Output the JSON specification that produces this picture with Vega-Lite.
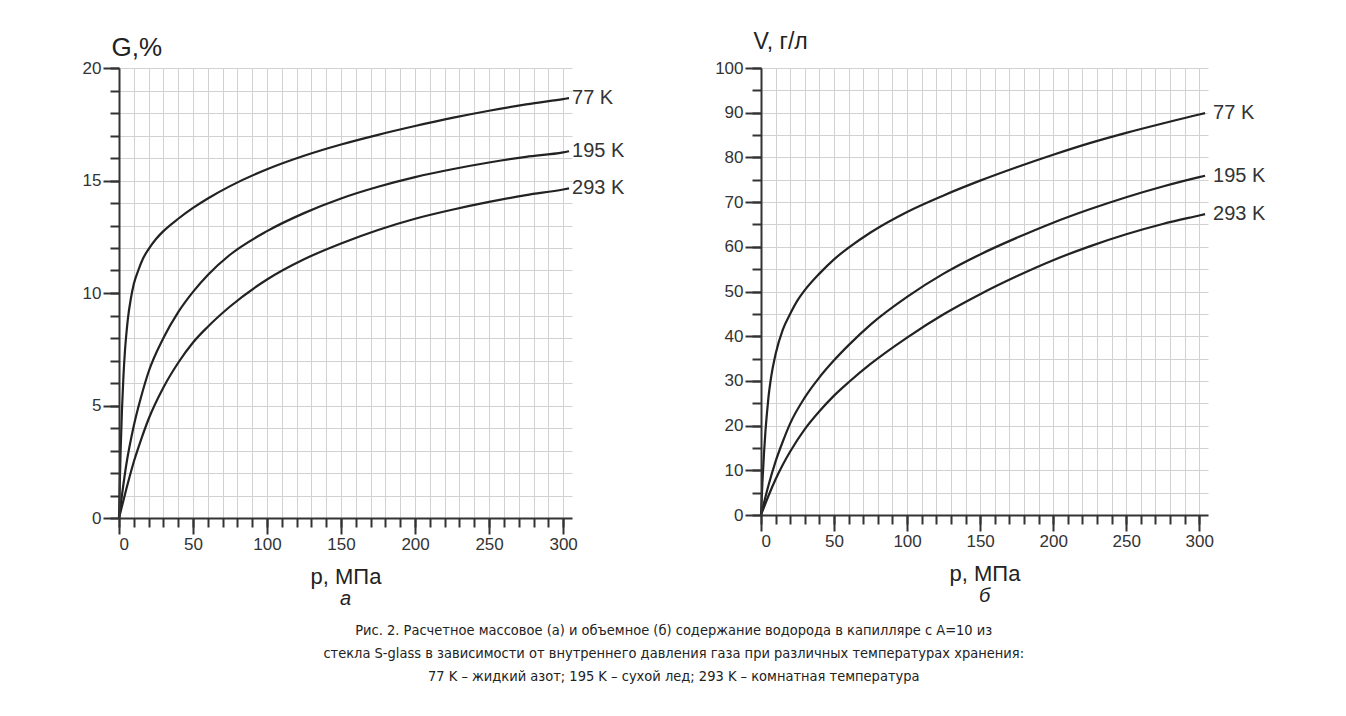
{
  "$schema": "https://vega.github.io/schema/vega-lite/v6.json",
  "background": "white",
  "padding": {"left": 82, "top": 30, "right": 10, "bottom": 10},
  "config": {"font": "Liberation Sans", "view": {"stroke": null}, "concat": {"spacing": 89}},
  "datasets": {
    "mass": [
      {"T": "77 K", "p": 0, "v": 0}, {"T": "77 K", "p": 1, "v": 2.8}, {"T": "77 K", "p": 2, "v": 4.8}, {"T": "77 K", "p": 3, "v": 6.3}, {"T": "77 K", "p": 4, "v": 7.4}, {"T": "77 K", "p": 5, "v": 8.2}, {"T": "77 K", "p": 6, "v": 8.85}, {"T": "77 K", "p": 8, "v": 9.75}, {"T": "77 K", "p": 10, "v": 10.4}, {"T": "77 K", "p": 13, "v": 11.0}, {"T": "77 K", "p": 16, "v": 11.5}, {"T": "77 K", "p": 20, "v": 11.95}, {"T": "77 K", "p": 25, "v": 12.4}, {"T": "77 K", "p": 30, "v": 12.75}, {"T": "77 K", "p": 40, "v": 13.3}, {"T": "77 K", "p": 50, "v": 13.78}, {"T": "77 K", "p": 60, "v": 14.2}, {"T": "77 K", "p": 75, "v": 14.75}, {"T": "77 K", "p": 100, "v": 15.5}, {"T": "77 K", "p": 125, "v": 16.1}, {"T": "77 K", "p": 150, "v": 16.6}, {"T": "77 K", "p": 175, "v": 17.03}, {"T": "77 K", "p": 200, "v": 17.42}, {"T": "77 K", "p": 225, "v": 17.78}, {"T": "77 K", "p": 250, "v": 18.1}, {"T": "77 K", "p": 275, "v": 18.38}, {"T": "77 K", "p": 300, "v": 18.62}, {"T": "77 K", "p": 304, "v": 18.66},
      {"T": "195 K", "p": 0, "v": 0}, {"T": "195 K", "p": 5, "v": 2.4}, {"T": "195 K", "p": 10, "v": 4.1}, {"T": "195 K", "p": 15, "v": 5.4}, {"T": "195 K", "p": 20, "v": 6.5}, {"T": "195 K", "p": 30, "v": 8.0}, {"T": "195 K", "p": 40, "v": 9.15}, {"T": "195 K", "p": 50, "v": 10.05}, {"T": "195 K", "p": 60, "v": 10.8}, {"T": "195 K", "p": 75, "v": 11.7}, {"T": "195 K", "p": 100, "v": 12.75}, {"T": "195 K", "p": 125, "v": 13.55}, {"T": "195 K", "p": 150, "v": 14.2}, {"T": "195 K", "p": 175, "v": 14.72}, {"T": "195 K", "p": 200, "v": 15.15}, {"T": "195 K", "p": 225, "v": 15.5}, {"T": "195 K", "p": 250, "v": 15.8}, {"T": "195 K", "p": 275, "v": 16.05}, {"T": "195 K", "p": 300, "v": 16.25}, {"T": "195 K", "p": 304, "v": 16.3},
      {"T": "293 K", "p": 0, "v": 0}, {"T": "293 K", "p": 5, "v": 1.3}, {"T": "293 K", "p": 10, "v": 2.5}, {"T": "293 K", "p": 15, "v": 3.5}, {"T": "293 K", "p": 20, "v": 4.4}, {"T": "293 K", "p": 30, "v": 5.8}, {"T": "293 K", "p": 40, "v": 6.9}, {"T": "293 K", "p": 50, "v": 7.8}, {"T": "293 K", "p": 60, "v": 8.5}, {"T": "293 K", "p": 75, "v": 9.4}, {"T": "293 K", "p": 100, "v": 10.6}, {"T": "293 K", "p": 125, "v": 11.5}, {"T": "293 K", "p": 150, "v": 12.2}, {"T": "293 K", "p": 175, "v": 12.8}, {"T": "293 K", "p": 200, "v": 13.3}, {"T": "293 K", "p": 225, "v": 13.7}, {"T": "293 K", "p": 250, "v": 14.05}, {"T": "293 K", "p": 275, "v": 14.35}, {"T": "293 K", "p": 300, "v": 14.6}, {"T": "293 K", "p": 304, "v": 14.65}
    ],
    "vol": [
      {"T": "77 K", "p": 0, "v": 0}, {"T": "77 K", "p": 1, "v": 7.5}, {"T": "77 K", "p": 2, "v": 13.5}, {"T": "77 K", "p": 3, "v": 18.5}, {"T": "77 K", "p": 4, "v": 22.5}, {"T": "77 K", "p": 5, "v": 26}, {"T": "77 K", "p": 7, "v": 31}, {"T": "77 K", "p": 10, "v": 36}, {"T": "77 K", "p": 15, "v": 41.5}, {"T": "77 K", "p": 20, "v": 45}, {"T": "77 K", "p": 25, "v": 48}, {"T": "77 K", "p": 30, "v": 50.3}, {"T": "77 K", "p": 40, "v": 54}, {"T": "77 K", "p": 50, "v": 57.2}, {"T": "77 K", "p": 60, "v": 59.8}, {"T": "77 K", "p": 75, "v": 63.2}, {"T": "77 K", "p": 100, "v": 67.8}, {"T": "77 K", "p": 125, "v": 71.5}, {"T": "77 K", "p": 150, "v": 74.8}, {"T": "77 K", "p": 175, "v": 77.8}, {"T": "77 K", "p": 200, "v": 80.6}, {"T": "77 K", "p": 225, "v": 83.2}, {"T": "77 K", "p": 250, "v": 85.5}, {"T": "77 K", "p": 275, "v": 87.6}, {"T": "77 K", "p": 300, "v": 89.6}, {"T": "77 K", "p": 304, "v": 89.9},
      {"T": "195 K", "p": 0, "v": 0}, {"T": "195 K", "p": 5, "v": 6.5}, {"T": "195 K", "p": 10, "v": 12}, {"T": "195 K", "p": 15, "v": 16.5}, {"T": "195 K", "p": 20, "v": 20.5}, {"T": "195 K", "p": 30, "v": 26.3}, {"T": "195 K", "p": 40, "v": 30.8}, {"T": "195 K", "p": 50, "v": 34.6}, {"T": "195 K", "p": 60, "v": 38}, {"T": "195 K", "p": 75, "v": 42.6}, {"T": "195 K", "p": 100, "v": 48.8}, {"T": "195 K", "p": 125, "v": 54}, {"T": "195 K", "p": 150, "v": 58.3}, {"T": "195 K", "p": 175, "v": 62}, {"T": "195 K", "p": 200, "v": 65.4}, {"T": "195 K", "p": 225, "v": 68.4}, {"T": "195 K", "p": 250, "v": 71.1}, {"T": "195 K", "p": 275, "v": 73.5}, {"T": "195 K", "p": 300, "v": 75.6}, {"T": "195 K", "p": 304, "v": 75.9},
      {"T": "293 K", "p": 0, "v": 0}, {"T": "293 K", "p": 5, "v": 4.2}, {"T": "293 K", "p": 10, "v": 8}, {"T": "293 K", "p": 15, "v": 11.3}, {"T": "293 K", "p": 20, "v": 14.2}, {"T": "293 K", "p": 30, "v": 19.2}, {"T": "293 K", "p": 40, "v": 23.2}, {"T": "293 K", "p": 50, "v": 26.7}, {"T": "293 K", "p": 60, "v": 29.7}, {"T": "293 K", "p": 75, "v": 33.8}, {"T": "293 K", "p": 100, "v": 39.7}, {"T": "293 K", "p": 125, "v": 44.9}, {"T": "293 K", "p": 150, "v": 49.4}, {"T": "293 K", "p": 175, "v": 53.4}, {"T": "293 K", "p": 200, "v": 57}, {"T": "293 K", "p": 225, "v": 60.1}, {"T": "293 K", "p": 250, "v": 62.8}, {"T": "293 K", "p": 275, "v": 65.1}, {"T": "293 K", "p": 300, "v": 67}, {"T": "293 K", "p": 304, "v": 67.3}
    ]
  },
  "title": {
    "text": ["Рис. 2. Расчетное массовое (а) и объемное (б) содержание водорода в капилляре с A=10 из", "стекла S-glass в зависимости от внутреннего давления газа при различных температурах хранения:", "77 K – жидкий азот; 195 K – сухой лед; 293 K – комнатная температура"],
    "orient": "bottom", "anchor": "middle", "font": "'Liberation Sans Narrow', 'DejaVu Sans Condensed', 'Liberation Sans', sans-serif", "fontSize": 14.5, "fontWeight": "normal", "lineHeight": 23, "offset": 15, "color": "#222"
  },
  "hconcat": [
    {
      "width": 453, "height": 450,
      "data": {"name": "mass"},
      "title": {"text": "а", "orient": "bottom", "fontStyle": "italic", "fontSize": 20, "fontWeight": "normal", "offset": 2, "color": "#222"},
      "resolve": {"axis": {"x": "independent", "y": "independent"}},
      "layer": [
        {
          "mark": {"type": "line", "opacity": 0},
          "encoding": {
            "detail": {"field": "T"},
            "x": {"field": "p", "type": "quantitative", "scale": {"domain": [0, 306], "nice": false},
              "axis": {"orient": "bottom", "values": [0,10,20,30,40,50,60,70,80,90,100,110,120,130,140,150,160,170,180,190,200,210,220,230,240,250,260,270,280,290,300], "labels": false, "domain": false, "tickSize": 9, "tickWidth": 2, "tickColor": "#333", "grid": true, "gridColor": "#d2d2d2", "gridWidth": 1, "title": null, "zindex": 0}},
            "y": {"field": "v", "type": "quantitative", "scale": {"domain": [0, 20], "nice": false},
              "axis": {"orient": "left", "values": [0,1,2,3,4,5,6,7,8,9,10,11,12,13,14,15,16,17,18,19,20], "labels": false, "domain": false, "tickSize": 9, "tickWidth": 2, "tickColor": "#333", "grid": true, "gridColor": "#d2d2d2", "gridWidth": 1, "title": null, "zindex": 0}}
          }
        },
        {
          "mark": {"type": "line", "interpolate": "monotone", "color": "#222", "strokeWidth": 2.2},
          "encoding": {
            "detail": {"field": "T"},
            "x": {"field": "p", "type": "quantitative",
              "axis": {"orient": "bottom", "values": [0,50,100,150,200,250,300], "grid": false, "tickSize": 16, "tickWidth": 2, "tickColor": "#333", "domainColor": "#333", "domainWidth": 2, "labelFontSize": 17, "labelColor": "#333", "labelPadding": 2, "title": "p, МПа", "titleFontSize": 22, "titleFontWeight": "normal", "titleColor": "#222", "titlePadding": 14, "zindex": 1}},
            "y": {"field": "v", "type": "quantitative",
              "axis": {"orient": "left", "values": [0,5,10,15,20], "grid": false, "tickSize": 16, "tickWidth": 2, "tickColor": "#333", "domainColor": "#333", "domainWidth": 2, "labelFontSize": 17, "labelColor": "#333", "labelPadding": 2, "title": "G,%", "titleAngle": 0, "titleAlign": "left", "titleBaseline": "alphabetic", "titleX": -8, "titleY": -13, "titleFontSize": 26, "titleFontWeight": "normal", "titleColor": "#222", "zindex": 1}}
          }
        },
        {
          "transform": [{"filter": "datum.p == 304"}],
          "mark": {"type": "text", "align": "left", "baseline": "middle", "dx": 3, "fontSize": 20, "color": "#333"},
          "encoding": {
            "x": {"field": "p", "type": "quantitative", "axis": null},
            "y": {"field": "v", "type": "quantitative", "axis": null},
            "text": {"field": "T"}
          }
        }
      ]
    },
    {
      "width": 447, "height": 447,
      "data": {"name": "vol"},
      "title": {"text": "б", "orient": "bottom", "fontStyle": "italic", "fontSize": 20, "fontWeight": "normal", "offset": 2, "color": "#222"},
      "resolve": {"axis": {"x": "independent", "y": "independent"}},
      "layer": [
        {
          "mark": {"type": "line", "opacity": 0},
          "encoding": {
            "detail": {"field": "T"},
            "x": {"field": "p", "type": "quantitative", "scale": {"domain": [0, 306], "nice": false},
              "axis": {"orient": "bottom", "values": [0,10,20,30,40,50,60,70,80,90,100,110,120,130,140,150,160,170,180,190,200,210,220,230,240,250,260,270,280,290,300], "labels": false, "domain": false, "tickSize": 9, "tickWidth": 2, "tickColor": "#333", "grid": true, "gridColor": "#d2d2d2", "gridWidth": 1, "title": null, "zindex": 0}},
            "y": {"field": "v", "type": "quantitative", "scale": {"domain": [0, 100], "nice": false},
              "axis": {"orient": "left", "values": [0,5,10,15,20,25,30,35,40,45,50,55,60,65,70,75,80,85,90,95,100], "labels": false, "domain": false, "tickSize": 9, "tickWidth": 2, "tickColor": "#333", "grid": true, "gridColor": "#d2d2d2", "gridWidth": 1, "title": null, "zindex": 0}}
          }
        },
        {
          "mark": {"type": "line", "interpolate": "monotone", "color": "#222", "strokeWidth": 2.2},
          "encoding": {
            "detail": {"field": "T"},
            "x": {"field": "p", "type": "quantitative",
              "axis": {"orient": "bottom", "values": [0,50,100,150,200,250,300], "grid": false, "tickSize": 16, "tickWidth": 2, "tickColor": "#333", "domainColor": "#333", "domainWidth": 2, "labelFontSize": 17, "labelColor": "#333", "labelPadding": 2, "title": "p, МПа", "titleFontSize": 22, "titleFontWeight": "normal", "titleColor": "#222", "titlePadding": 14, "zindex": 1}},
            "y": {"field": "v", "type": "quantitative",
              "axis": {"orient": "left", "values": [0,10,20,30,40,50,60,70,80,90,100], "grid": false, "tickSize": 16, "tickWidth": 2, "tickColor": "#333", "domainColor": "#333", "domainWidth": 2, "labelFontSize": 17, "labelColor": "#333", "labelPadding": 2, "title": "V, г/л", "titleAngle": 0, "titleAlign": "left", "titleBaseline": "alphabetic", "titleX": -8, "titleY": -20, "titleFontSize": 23, "titleFontWeight": "normal", "titleColor": "#222", "zindex": 1}}
          }
        },
        {
          "transform": [{"filter": "datum.p == 304"}],
          "mark": {"type": "text", "align": "left", "baseline": "middle", "dx": 8, "fontSize": 20, "color": "#333"},
          "encoding": {
            "x": {"field": "p", "type": "quantitative", "axis": null},
            "y": {"field": "v", "type": "quantitative", "axis": null},
            "text": {"field": "T"}
          }
        }
      ]
    }
  ]
}
